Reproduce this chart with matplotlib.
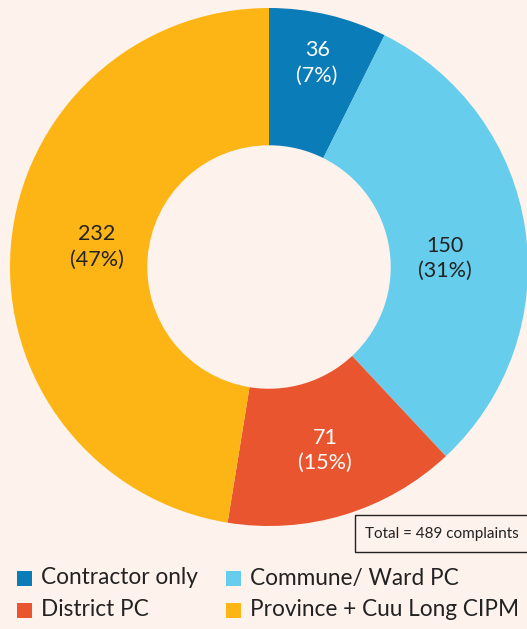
import matplotlib
matplotlib.use("Agg")
import matplotlib.pyplot as plt
import numpy as np
from matplotlib.patches import Rectangle

categories = ["Contractor only", "Commune/ Ward PC", "District PC", "Province + Cuu Long CIPM"]
values = [36, 150, 71, 232]
pct_labels = ["7%", "31%", "15%", "47%"]
total_label = "Total = 489 complaints"

colors = ["#0a7cb8", "#66cdec", "#e9552e", "#fdb515"]
text_colors = ["white", "#222222", "white", "#222222"]
label_radius = [0.81, 0.68, 0.74, 0.67]
label_angle_offset = [0, -5.4, 0, -2]
bg = "#fdf2ec"

plt.rcParams['font.family'] = ['Lato', 'DejaVu Sans']

W, H = 527, 629
fig = plt.figure(figsize=(W/100, H/100), dpi=100, facecolor=bg)

cx, cy, R = 269, 267, 259
ax = fig.add_axes([(cx - R)/W, (H - (cy + R))/H, 2*R/W, 2*R/H])
ax.set_facecolor(bg)
wedges, _ = ax.pie(values, colors=colors, startangle=90, counterclock=False,
                   radius=1.0, wedgeprops=dict(width=0.53, linewidth=0))
ax.set_xlim(-1, 1)
ax.set_ylim(-1, 1)
ax.set_aspect('equal')
ax.axis('off')

for w, v, p, tc, r, da in zip(wedges, values, pct_labels, text_colors, label_radius, label_angle_offset):
    ang = np.deg2rad((w.theta1 + w.theta2) / 2 + da)
    ax.text(r*np.cos(ang), r*np.sin(ang), f"{v}\n({p})", ha='center', va='center',
            color=tc, fontsize=15.5, fontweight='normal', linespacing=1.33)

# total box
fig.patches.append(Rectangle((355/W, (H-552)/H), 180/W, 37/H, transform=fig.transFigure,
                             facecolor=bg, edgecolor='#222222', linewidth=1.0))
fig.text(365/W, (H-534)/H, total_label, ha='left', va='center', fontsize=11, color='#222222')

# legend
sq = 15
pos = [(17, 578), (226, 578), (17, 610), (226, 610)]
for (x, y), c, lab in zip(pos, colors, categories):
    fig.patches.append(Rectangle((x/W, (H-y-sq/2)/H), sq/W, sq/H, transform=fig.transFigure,
                                 facecolor=c, edgecolor='none'))
    fig.text((x+24)/W, (H-y)/H, lab, ha='left', va='center', fontsize=16.3, color='#222222')

fig.savefig("out.png", dpi=100, facecolor=bg)
